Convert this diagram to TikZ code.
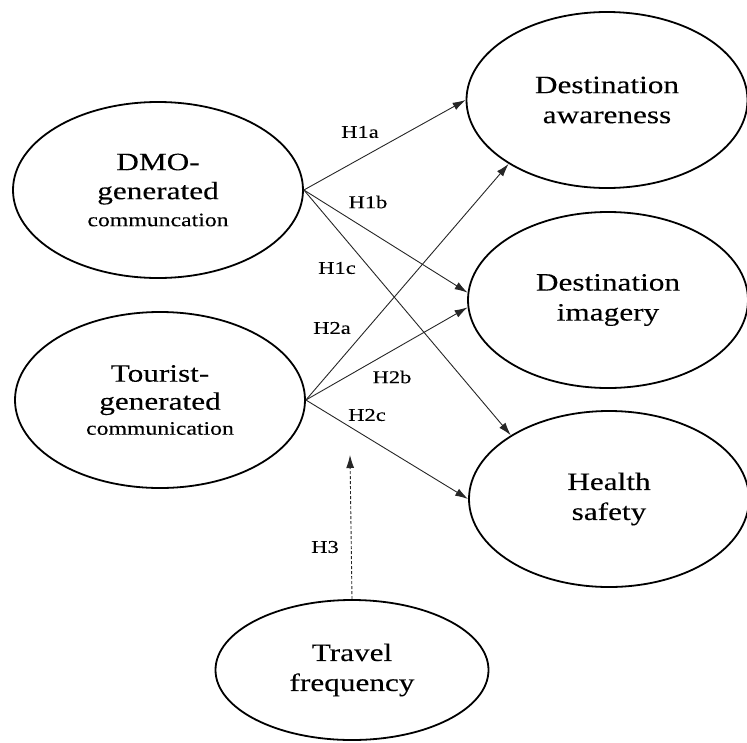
\documentclass[tikz,border=0pt]{standalone}
\usepackage{fontspec}
\setmainfont{Liberation Serif}[FakeStretch=1.25, FakeBold=0.15]
\usetikzlibrary{shapes.geometric,arrows.meta}
\tikzset{
  construct/.style={draw=black, line width=1.8pt, ellipse, inner sep=0pt, align=center,
    font=\fontsize{25}{30}\selectfont, text=black},
  link/.style={draw=black!85, line width=0.9pt, -{Latex[length=13pt,width=8pt]}},
  modlink/.style={link, dash pattern=on 3pt off 2pt},
  hyp/.style={inner sep=0pt, font=\fontsize{18}{20}\selectfont, text=black},
}
\newcommand{\smalltxt}[1]{{\fontsize{19}{22}\selectfont #1}}
\begin{document}
\begin{tikzpicture}[x=1pt,y=-1pt]
\useasboundingbox (0,0) rectangle (747,742);
\node[construct, minimum width=290pt, minimum height=176pt] (dmo) at (158,190)
  {DMO-\\[-1pt]generated\\[-3pt]\smalltxt{communcation}};
\node[construct, minimum width=290pt, minimum height=176pt] (tgc) at (160,400)
  {Tourist-\\[-2pt]generated\\[-5pt]\smalltxt{communication}};
\node[construct, minimum width=281pt, minimum height=176pt] (awa) at (607,100)
  {Destination\\awareness};
\node[construct, minimum width=280pt, minimum height=176pt] (img) at (608,300)
  {Destination\\imagery};
\node[construct, minimum width=280pt, minimum height=176pt] (hs) at (609,499)
  {Health\\safety};
\node[construct, minimum width=273pt, minimum height=140pt] (tf) at (352,670)
  {Travel\\frequency};
\coordinate (mod) at (350,455);

\draw[link] (dmo.east) -- (awa.west);
\draw[link] (dmo.east) -- (img.177);
\draw[link] (dmo.east) -- (hs.147);
\draw[link] (tgc.east) -- (awa.213);
\draw[link] (tgc.east) -- (img.183);
\draw[link] (tgc.east) -- (hs.west);
\draw[modlink] (tf.north) -- (mod);

\node[hyp] (h1a) at (360,132) {H1a};
\node[hyp] (h1b) at (368,202) {H1b};
\node[hyp] (h1c) at (337,268) {H1c};
\node[hyp] (h2a) at (332,328) {H2a};
\node[hyp] (h2b) at (392,377) {H2b};
\node[hyp] (h2c) at (367,415) {H2c};
\node[hyp] (h3) at (325,547) {H3};
\end{tikzpicture}
\end{document}
